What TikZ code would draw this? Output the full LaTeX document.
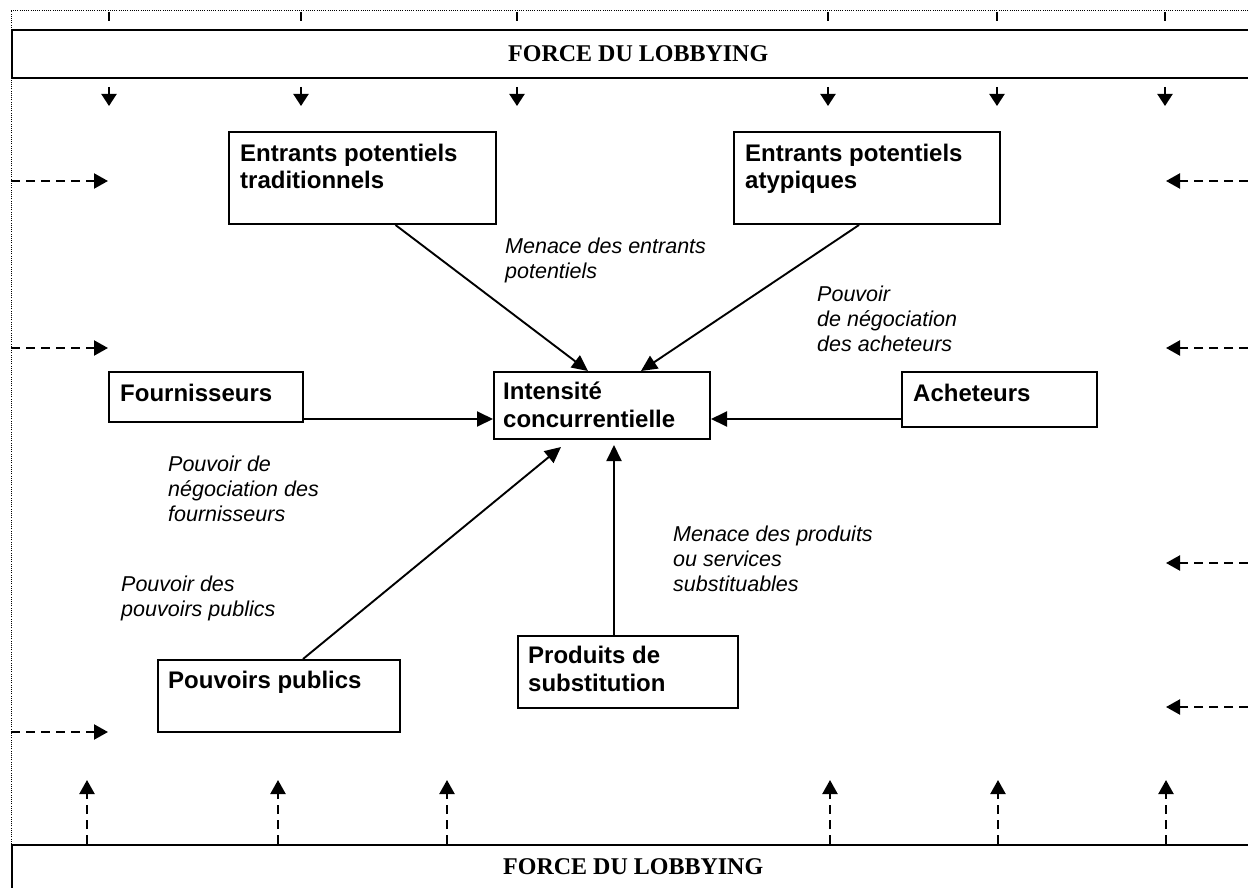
\documentclass[tikz,border=0pt]{standalone}
\usepackage{fontspec}
\setmainfont{Liberation Serif}
\newfontfamily\arial{Liberation Sans}
\usetikzlibrary{arrows.meta,calc}
\begin{document}
\begin{tikzpicture}[x=1pt,y=-1pt,
  box/.style n args={2}{draw, line width=2pt, anchor=north west, inner sep=0pt, minimum width=#1, minimum height=#2},
  btxt/.style={anchor=base west, inner sep=0pt, align=left, font={\arial\bfseries\fontsize{24pt}{28pt}\selectfont}},
  itxt/.style={anchor=base west, inner sep=0pt, align=left, font={\arial\itshape\fontsize{21.5pt}{25pt}\selectfont}},
  ftxt/.style={anchor=base west, inner sep=0pt, font={\bfseries\fontsize{24pt}{28pt}\selectfont}},
  conn/.style={line width=1.9pt, -{Triangle[length=16pt,width=15pt]}},
  dconn/.style={line width=2.2pt, dash pattern=on 9pt off 6pt, -{Triangle[length=14pt,width=15pt]}},
  stub/.style={line width=2pt, -{Triangle[length=12pt,width=15pt]}},
  frame/.style={line width=0.9pt, dash pattern=on 1pt off 1.2pt}]
\useasboundingbox (0,0) rectangle (1248,888);
\clip (0,0) rectangle (1248,888);
\fill[white] (0,0) rectangle (1248,888);

% frame
\draw[frame] (11,844) -- (11,10) -- (1250,10);

% lobbying bands
\node[box={1300pt}{48pt}] (topband) at (11,29) {};
\node[ftxt] (toptext) at (508,62) {FORCE DU LOBBYING};
\node[box={1300pt}{70pt}] (botband) at (11,844) {};
\node[ftxt] (bottext) at (503,874) {FORCE DU LOBBYING};

% ticks and down stubs
\foreach \x in {109,301,517,828,997,1165} {
  \draw[line width=2.2pt] (\x,12) -- (\x,21);
  \draw[stub] (\x,87) -- (\x,106);
}
% up dashed arrows
\foreach \x in {87,278,447,830,998,1166} {
  \draw[dconn] (\x,844) -- (\x,780);
}
% left dashed arrows
\foreach \y in {181,348,732} {
  \draw[dconn] (11,\y) -- (108,\y);
}
% right dashed arrows
\foreach \y in {181,348,563,707} {
  \draw[dconn] (1248,\y) -- (1166,\y);
}

% boxes
\node[box={267pt}{92pt}] (trad) at (228,131) {};
\node[btxt] (tradt) at (240,189) {Entrants potentiels\\traditionnels};
\node[box={266pt}{92pt}] (atyp) at (733,131) {};
\node[btxt] (atypt) at (745,189) {Entrants potentiels\\atypiques};
\node[box={194pt}{50pt}] (fourn) at (108,371) {};
\node[btxt] (fournt) at (120,401) {Fournisseurs};
\node[box={216pt}{67pt}] (inten) at (493,371) {};
\node[btxt] (intent) at (503,427) {Intensité\\concurrentielle};
\node[box={195pt}{55pt}] (achet) at (901,371) {};
\node[btxt] (achett) at (913,401) {Acheteurs};
\node[box={220pt}{72pt}] (prod) at (517,635) {};
\node[btxt] (prodt) at (528,691) {Produits de\\substitution};
\node[box={242pt}{72pt}] (pouv) at (157,659) {};
\node[btxt] (pouvt) at (168,688) {Pouvoirs publics};

% labels
\node[itxt] (l1) at (505,278) {Menace des entrants\\potentiels};
\node[itxt] (l2) at (817,351) {Pouvoir\\de négociation\\des acheteurs};
\node[itxt] (l3) at (168,521) {Pouvoir de\\négociation des\\fournisseurs};
\node[itxt] (l4) at (121,616) {Pouvoir des\\pouvoirs publics};
\node[itxt] (l5) at (673,591) {Menace des produits\\ou services\\substituables};

% connectors
\coordinate (f1) at (302,419);
\coordinate (a1) at (901,419);
\draw[conn] ([xshift=33pt]trad.south) -- ([xshift=-14pt]inten.north);
\draw[conn] ([xshift=-8pt]atyp.south) -- ([xshift=39pt]inten.north);
\draw[conn] (f1) -- (f1 -| inten.west);
\draw[conn] (a1) -- (a1 -| inten.east);
\draw[conn] ([xshift=24pt]pouv.north) -- ([xshift=-41pt,yshift=-7pt]inten.south);
\draw[conn] ([xshift=-14pt]prod.north) -- ([xshift=12pt,yshift=-5pt]inten.south);
\end{tikzpicture}
\end{document}
